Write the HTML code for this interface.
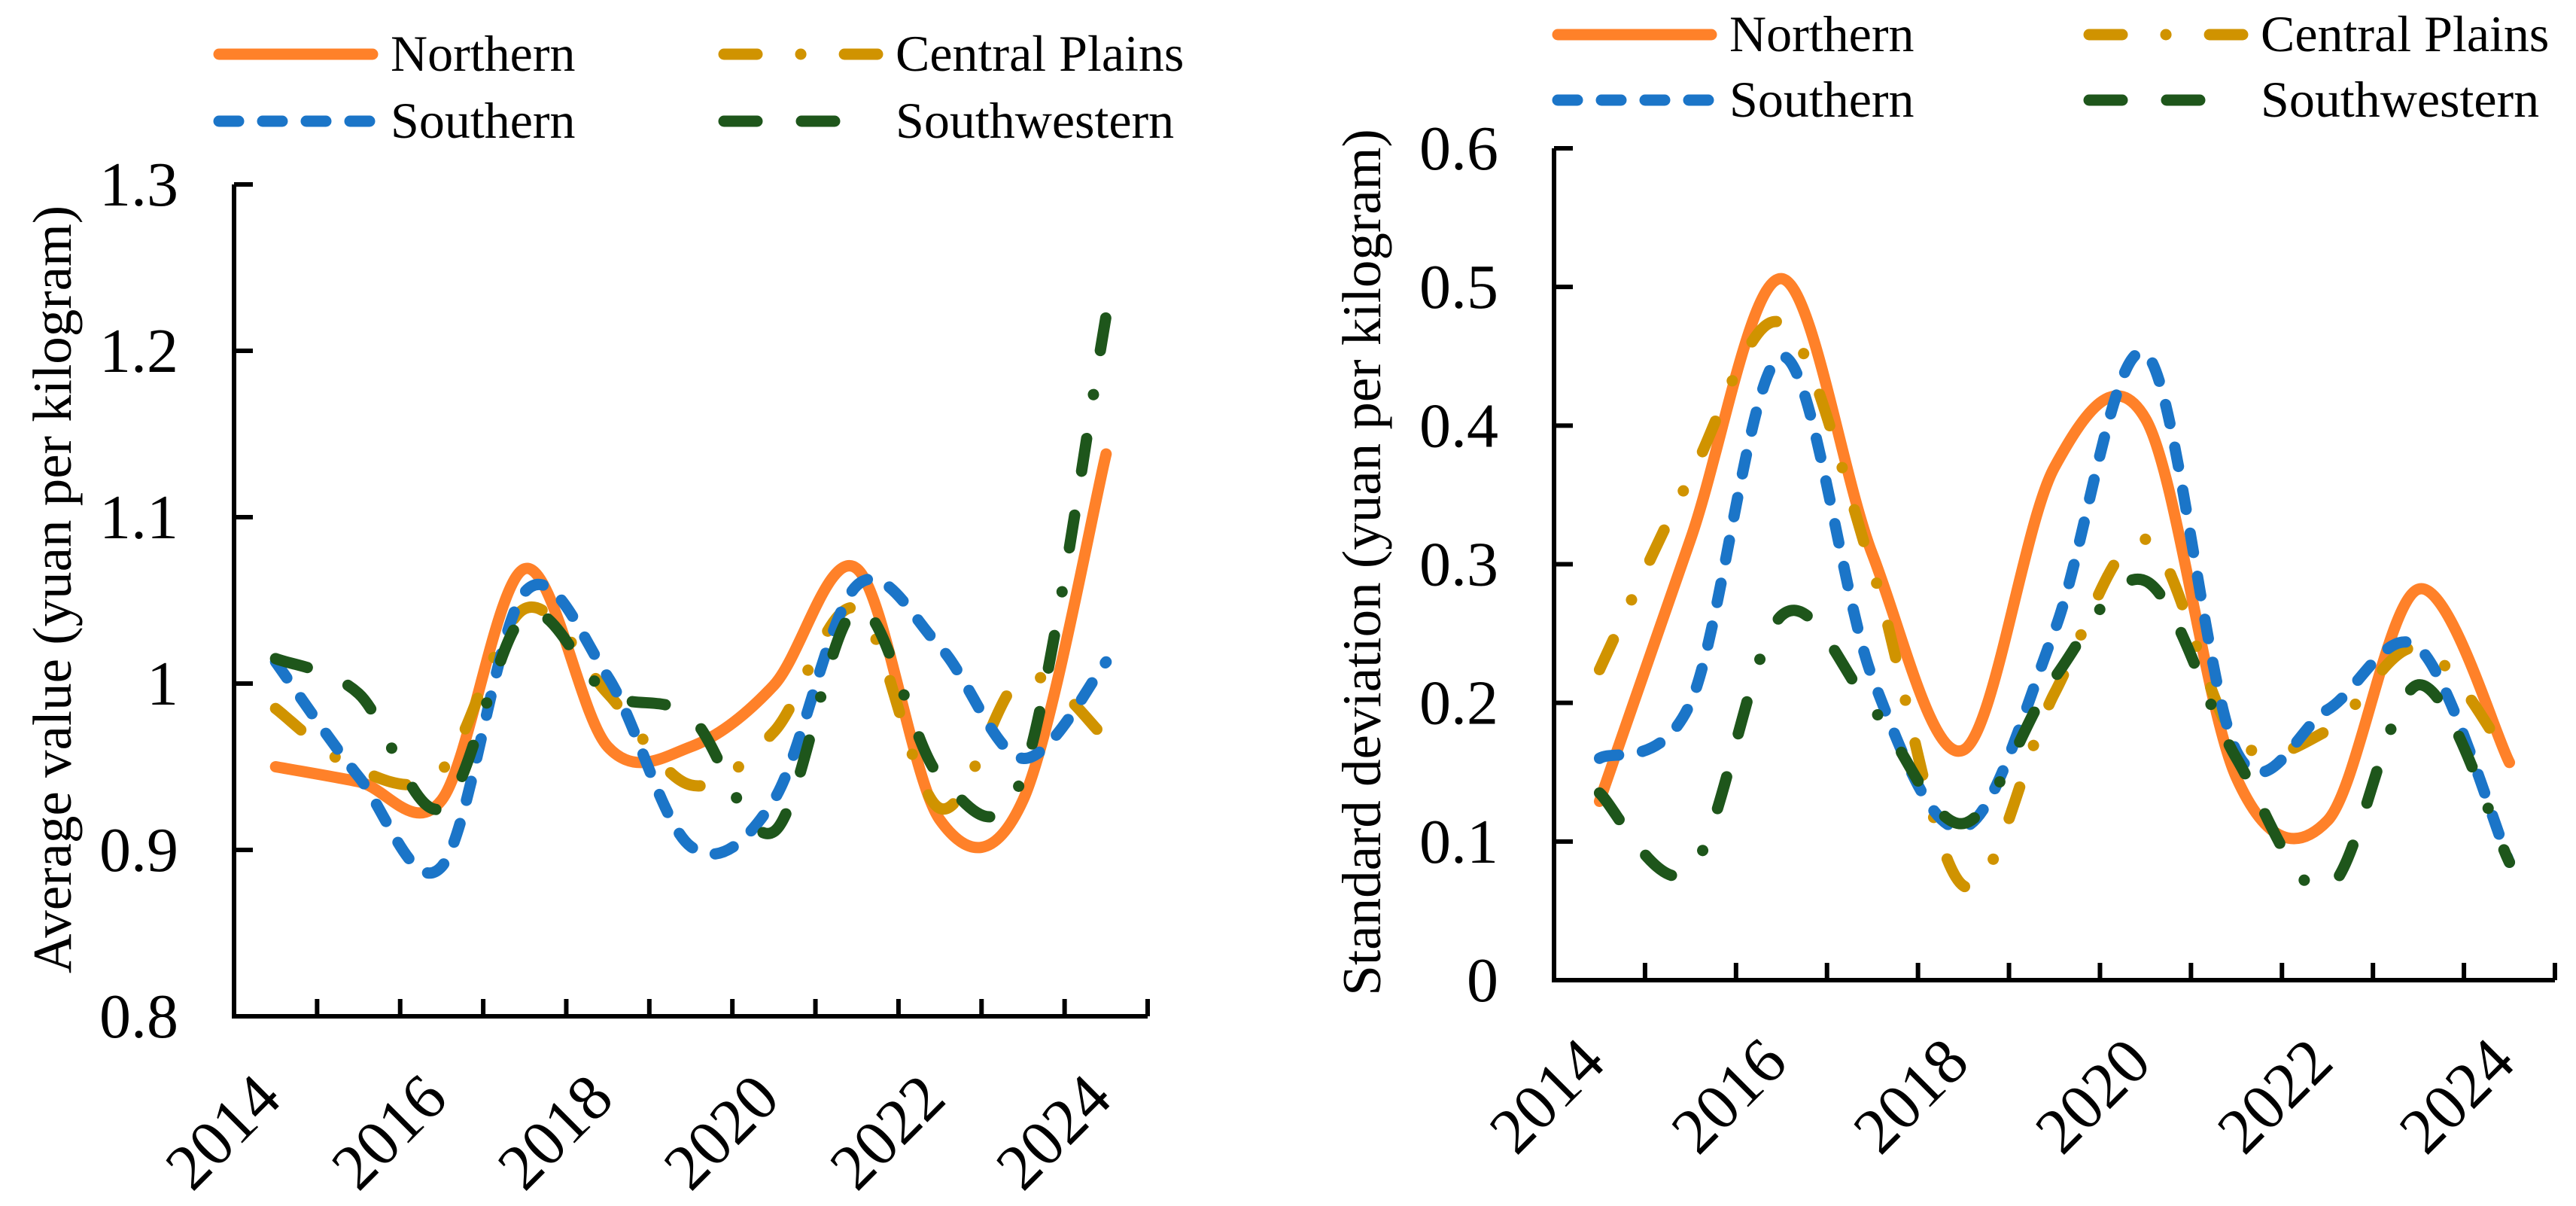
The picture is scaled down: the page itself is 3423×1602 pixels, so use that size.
<!DOCTYPE html>
<html><head><meta charset="utf-8"><style>
html,body{margin:0;padding:0;background:#fff;}
svg{display:block;font-family:"Liberation Serif",serif;}
</style></head><body>
<svg id="chart" width="3423" height="1602" viewBox="0 0 3423 1602" xmlns="http://www.w3.org/2000/svg"></svg>
<script>
const years = [2014,2015,2016,2017,2018,2019,2020,2021,2022,2023,2024];
const yearLabels = ["2014","2016","2018","2020","2022","2024"];
const avgNorthern = [0.95,0.941,0.93,1.069,0.962,0.962,0.999,1.069,0.918,0.93,1.138];
const avgSouthern = [1.013,0.944,0.89,1.055,1.004,0.902,0.93,1.059,1.022,0.955,1.013];
const avgCentral = [0.985,0.948,0.948,1.045,0.994,0.939,0.971,1.045,0.925,1.004,0.967];
const avgSouthwestern = [1.015,0.994,0.925,1.041,0.994,0.98,0.911,1.045,0.944,0.945,1.221];
const sdNorthern = [0.129,0.318,0.506,0.307,0.166,0.37,0.405,0.146,0.115,0.282,0.157];
const sdSouthern = [0.16,0.2,0.45,0.218,0.11,0.252,0.452,0.165,0.195,0.24,0.085];
const sdCentral = [0.224,0.363,0.474,0.296,0.068,0.207,0.318,0.174,0.18,0.24,0.16];
const sdSouthwestern = [0.135,0.079,0.263,0.196,0.113,0.218,0.288,0.16,0.066,0.213,0.085];
const avgTicks = ["0.8","0.9","1","1.1","1.2","1.3"];
const sdTicks = ["0","0.1","0.2","0.3","0.4","0.5","0.6"];

const NS="http://www.w3.org/2000/svg";
const svg=document.getElementById('chart');
function mk(tag,attrs,parent){const e=document.createElementNS(NS,tag);for(const k in attrs)e.setAttribute(k,attrs[k]);(parent||svg).appendChild(e);return e;}
const styles={
 northern:{stroke:"#FF8129",dash:""},
 southern:{stroke:"#1B75C8",dash:"26 32"},
 central:{stroke:"#D09300",dash:"44 58 0.1 58"},
 southwestern:{stroke:"#1E561B",dash:"44 59 44 59 0.1 59"}
};
function smooth(pts){
 let d=`M${pts[0][0]},${pts[0][1]}`;
 for(let i=0;i<pts.length-1;i++){
  const p0=pts[i-1]||pts[i],p1=pts[i],p2=pts[i+1],p3=pts[i+2]||pts[i+1];
  const c1=[p1[0]+(p2[0]-p0[0])/6,p1[1]+(p2[1]-p0[1])/6];
  const c2=[p2[0]-(p3[0]-p1[0])/6,p2[1]-(p3[1]-p1[1])/6];
  d+=` C${c1[0]},${c1[1]} ${c2[0]},${c2[1]} ${p2[0]},${p2[1]}`;
 }
 return d;
}
function panel(cfg){
 const g=mk('g',{});
 
 
 const step=(cfg.x1-cfg.x0)/years.length;
 const xs=i=>cfg.x0+step*(i+0.5);
 const ys=v=>cfg.yb-(v-cfg.vmin)/(cfg.vmax-cfg.vmin)*(cfg.yb-cfg.yt);
 const ya=mk('line',{x1:cfg.x0,y1:cfg.yt,x2:cfg.x0,y2:cfg.yb,stroke:"#000","stroke-width":6},g);
 
 const xa=mk('line',{x1:cfg.x0-3,y1:cfg.yb,x2:cfg.x1,y2:cfg.yb,stroke:"#000","stroke-width":6},g);
 
 cfg.ticks.forEach((t,i)=>{
  const v=cfg.vmin+i*(cfg.vmax-cfg.vmin)/(cfg.ticks.length-1);const y=ys(v);
  const tl=mk('line',{x1:cfg.x0,y1:y,x2:cfg.x0+25,y2:y,stroke:"#000","stroke-width":6},g);
  
  const tx=mk('text',{x:cfg.x0-74,y:y+28,"text-anchor":"end","font-size":84},g);
  
  tx.textContent=t;
 });
 for(let i=1;i<=years.length;i++){
  const x=cfg.x0+step*i;
  const tl=mk('line',{x1:x,y1:cfg.yb,x2:x,y2:cfg.yb-23,stroke:"#000","stroke-width":6},g);
  
 }
 yearLabels.forEach(lbl=>{
  const i=years.indexOf(+lbl);const x=xs(i)+11,y=cfg.yb+113;
  const tx=mk('text',{x:x,y:y,"text-anchor":"end","font-size":86,transform:`rotate(-45 ${x} ${y})`},g);
  
  tx.textContent=lbl;
 });
 const tt=mk('text',{x:cfg.titleX,y:cfg.titleY,"text-anchor":"middle","font-size":73,transform:`rotate(-90 ${cfg.titleX} ${cfg.titleY})`},g);
 
 tt.textContent=cfg.title;
 cfg.series.forEach(s=>{
  const st=styles[s.key];
  const pts=s.data.map((v,i)=>[xs(i),ys(v)]);
  const p=mk('path',{d:smooth(pts),fill:"none",stroke:st.stroke,"stroke-width":15,"stroke-linecap":"round","stroke-dasharray":st.dash},g);
  
 });
 const L=cfg.legend;
 const items=[["northern","Northern",L.c1,L.r1],["central","Central Plains",L.c2,L.r1],["southern","Southern",L.c1,L.r2],["southwestern","Southwestern",L.c2,L.r2]];
 items.forEach(([k,txt,cx,ry])=>{
  const st=styles[k];
  const le=mk('g',{},g);
  
  mk('line',{x1:cx+8,y1:ry,x2:cx+212,y2:ry,stroke:st.stroke,"stroke-width":15,"stroke-linecap":"round","stroke-dasharray":st.dash},le);
  const t=mk('text',{x:cx+236,y:ry+22,"font-size":68},le);
  t.textContent=txt;
 });
}
panel({name:"average-value-chart",x0:311,x1:1525,yt:245,yb:1350,vmin:0.8,vmax:1.3,ticks:avgTicks,
 title:"Average value (yuan per kilogram)",titleX:94,titleY:783,
 legend:{c1:283,c2:954,r1:72,r2:161},
 series:[{key:"northern",data:avgNorthern},{key:"central",data:avgCentral},{key:"southern",data:avgSouthern},{key:"southwestern",data:avgSouthwestern}]});
panel({name:"standard-deviation-chart",x0:2065,x1:3395,yt:197,yb:1302,vmin:0,vmax:0.6,ticks:sdTicks,
 title:"Standard deviation (yuan per kilogram)",titleX:1834,titleY:747,
 legend:{c1:2062,c2:2768,r1:46,r2:133},
 series:[{key:"northern",data:sdNorthern},{key:"central",data:sdCentral},{key:"southern",data:sdSouthern},{key:"southwestern",data:sdSouthwestern}]});
</script>
</body></html>
